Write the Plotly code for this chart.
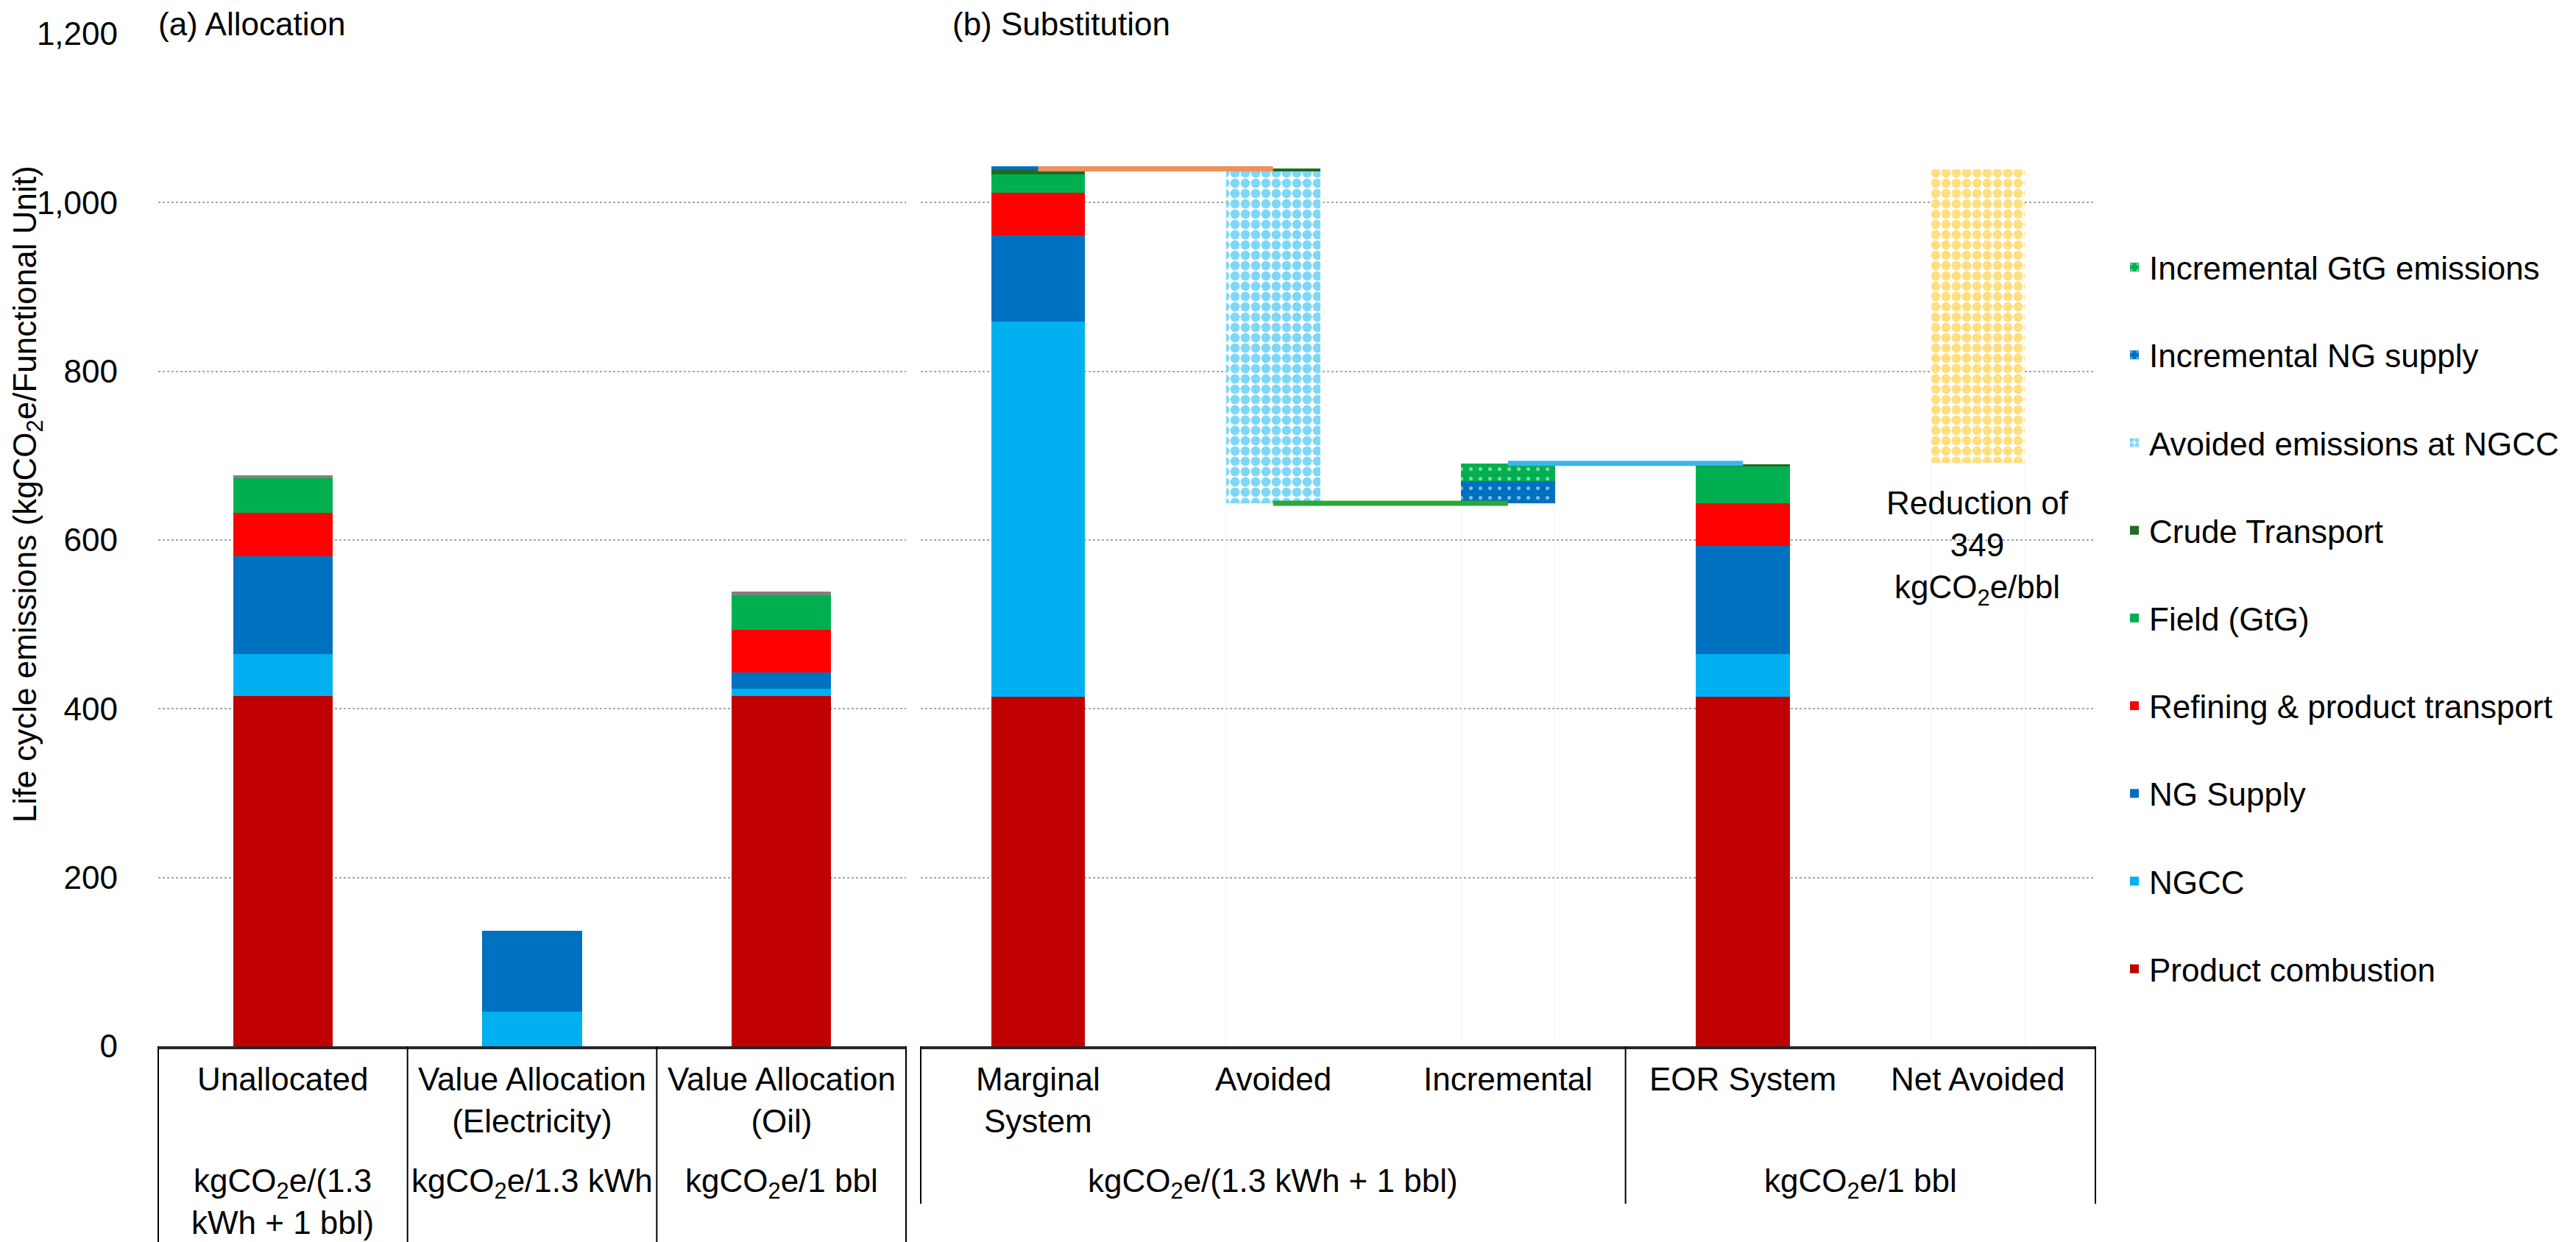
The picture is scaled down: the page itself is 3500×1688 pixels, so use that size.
import plotly.graph_objects as go

W, H = 3500, 1688
TOP, BOTTOM = 38, 1414  # pixel rows of the plot area (y = 1200 and y = 0)


def px(p):
    return p / W


def py(p):
    return (BOTTOM - p) / (BOTTOM - TOP)


# ---- categories / labels
alloc_cats = ["Unallocated", "Value Allocation<br>(Electricity)", "Value Allocation<br>(Oil)"]
alloc_units = ["kgCO<sub>2</sub>e/(1.3<br>kWh + 1 bbl)", "kgCO<sub>2</sub>e/1.3 kWh", "kgCO<sub>2</sub>e/1 bbl"]
subst_cats = ["Marginal<br>System", "Avoided", "Incremental", "EOR System", "Net Avoided"]
subst_units = ["kgCO<sub>2</sub>e/(1.3 kWh + 1 bbl)", "kgCO<sub>2</sub>e/1 bbl"]
subst_unit_span = [3, 2]

# ---- (a) allocation stacks
alloc_product = [415, 0, 415]
alloc_ngcc = [50, 41, 9]
alloc_ngsupply = [116, 96, 19]
alloc_refining = [51, 0, 51]
alloc_field = [41, 0, 41]
alloc_crude = [4, 0, 4]

# ---- (b) substitution stacks (waterfall)
subst_base = [0, 643.5, 643.5, 0, 691.5]
subst_product = [414, 0, 0, 414, 0]
subst_ngcc = [445, 0, 0, 51, 0]
subst_ngsupply = [102, 0, 0, 128, 0]
subst_refining = [51, 0, 0, 51, 0]
subst_field = [21, 0, 0, 43, 0]
subst_crude = [6, 0, 0, 3, 0]
subst_avoided = [0, 393.5, 0, 0, 0]
subst_avoided_top = [0, 3, 0, 0, 0]
subst_inc_ng = [4, 0, 26, 0, 0]
subst_inc_gtg = [0, 0, 21, 0, 0]
subst_net = [0, 0, 0, 0, 348]

# connector lines between waterfall steps
conn_marg_avoid = [1040, 1040]
conn_avoid_inc = [643.5, 643.5]
conn_inc_eor = [691, 691]

reduction = 349

FONT = "Arial, Liberation Sans, sans-serif"
FS = 44

fig = go.Figure()

series = [
    ("Product combustion", "#C00000", alloc_product, subst_product, None),
    ("NGCC", "#00B0F0", alloc_ngcc, subst_ngcc, None),
    ("NG Supply", "#0070C0", alloc_ngsupply, subst_ngsupply, None),
    ("Refining & product transport", "#FF0000", alloc_refining, subst_refining, None),
    ("Field (GtG)", "#00B050", alloc_field, subst_field, None),
    ("Crude Transport", "#1E6B24", alloc_crude, subst_crude, None),
    ("Avoided emissions at NGCC", "#00B0F0", None, subst_avoided,
     dict(shape=".", fgcolor="#00B0F0", bgcolor="white", size=14, solidity=0.66)),
    ("Incremental NG supply", "#0070C0", None, subst_inc_ng,
     dict(shape=".", fgcolor="white", bgcolor="#0070C0", size=13, solidity=0.12)),
    ("Incremental GtG emissions", "#00B050", None, subst_inc_gtg,
     dict(shape=".", fgcolor="white", bgcolor="#00B050", size=13, solidity=0.12)),
]

# invisible base for floating bars
fig.add_trace(go.Bar(x=subst_cats, y=subst_base, xaxis="x2", yaxis="y2",
                     marker=dict(color="rgba(0,0,0,0)"), showlegend=False,
                     hoverinfo="skip"))

for i, (name, color, left, right, pat) in enumerate(series):
    rank = len(series) - i  # top of the stack first in the legend
    if left is not None:
        lcol = color if name != "Crude Transport" else "#808080"
        fig.add_trace(go.Bar(x=alloc_cats, y=left, name=name, legendgroup=name,
                             legendrank=rank, showlegend=False,
                             marker=dict(color=lcol, line_width=0)))
    m = dict(color=color, line_width=0)
    if pat:
        m["pattern"] = pat
    fig.add_trace(go.Bar(x=subst_cats, y=right, name=name, legendgroup=name,
                         legendrank=rank, xaxis="x2", yaxis="y2", marker=m))
    if name == "Avoided emissions at NGCC":
        # thin dark cap on top of the avoided step
        fig.add_trace(go.Bar(x=subst_cats, y=subst_avoided_top, xaxis="x2", yaxis="y2",
                             showlegend=False, marker=dict(color="#1E6B24", line_width=0),
                             hoverinfo="skip"))

fig.add_trace(go.Bar(x=subst_cats, y=subst_net, xaxis="x2", yaxis="y2", showlegend=False,
                     name="Net Avoided",
                     marker=dict(color="#FFC000", line_width=0,
                                 pattern=dict(shape=".", fgcolor="#FFC000", bgcolor="white",
                                              size=14, solidity=0.66))))

# connectors
for xs, ys, col in [(subst_cats[0:2], conn_marg_avoid, "#F0905C"),
                    (subst_cats[1:3], conn_avoid_inc, "#2CA83A"),
                    (subst_cats[2:4], conn_inc_eor, "#38B6EC")]:
    fig.add_trace(go.Scatter(x=xs, y=ys, mode="lines", xaxis="x2", yaxis="y2",
                             line=dict(color=col, width=7), showlegend=False,
                             hoverinfo="skip"))

# ---- table-like category axis
shapes = []
n = len(alloc_cats)
for k in range(n + 1):
    shapes.append(dict(type="line", xref="x domain", yref="paper", x0=k / n, x1=k / n,
                       y0=0, y1=py(1680), line=dict(color="black", width=2)))
edges = [0]
for s in subst_unit_span:
    edges.append(edges[-1] + s)
for e in edges:
    f = e / len(subst_cats)
    shapes.append(dict(type="line", xref="x2 domain", yref="paper", x0=f, x1=f,
                       y0=0, y1=py(1628), line=dict(color="black", width=2)))

ann = []
for c, u in zip(alloc_cats, alloc_units):
    ann.append(dict(x=c, xref="x", y=py(1432), yref="paper", text=c, yanchor="top",
                    xanchor="center", showarrow=False))
    ann.append(dict(x=c, xref="x", y=py(1570), yref="paper", text=u, yanchor="top",
                    xanchor="center", showarrow=False))
for c in subst_cats:
    ann.append(dict(x=c, xref="x2", y=py(1432), yref="paper", text=c, yanchor="top",
                    xanchor="center", showarrow=False))
for i, u in enumerate(subst_units):
    f = (edges[i] + edges[i + 1]) / 2 / len(subst_cats)
    ann.append(dict(x=f, xref="x2 domain", y=py(1570), yref="paper", text=u,
                    yanchor="top", xanchor="center", showarrow=False))

ann.append(dict(x=px(205), y=py(25), xref="paper", yref="paper", text="(a) Allocation",
                xanchor="left", yanchor="middle", showarrow=False, bgcolor="white"))
ann.append(dict(x=px(1284), y=py(24), xref="paper", yref="paper", text="(b) Substitution",
                xanchor="left", yanchor="middle", showarrow=False, bgcolor="white"))
ann.append(dict(x=px(29), y=py(664), xref="paper", yref="paper",
                text="Life cycle emissions (kgCO<sub>2</sub>e/Functional Unit)",
                textangle=-90, xanchor="center", yanchor="middle", showarrow=False))
ann.append(dict(x=subst_cats[-1], xref="x2", y=591, yref="y2",
                text="Reduction of<br>%d<br>kgCO<sub>2</sub>e/bbl" % reduction,
                xanchor="center", showarrow=False))

axis_common = dict(showgrid=False, showline=True, linecolor="#262626", linewidth=4,
                   ticks="", showticklabels=False, type="category", fixedrange=True)
yaxis_common = dict(range=[0, 1200], dtick=200, showgrid=True, gridcolor="#A6A6A6",
                    gridwidth=2, griddash="dot", zeroline=False, showline=False,
                    tickformat=",")

fig.update_layout(
    width=W, height=H,
    margin=dict(l=0, r=0, t=TOP, b=H - BOTTOM),
    paper_bgcolor="white", plot_bgcolor="white",
    font=dict(family=FONT, size=FS, color="black"),
    barmode="stack", bargap=0.6,
    xaxis=dict(domain=[px(207), px(1223)], range=[-0.5, n - 0.5], **axis_common),
    xaxis2=dict(domain=[px(1243), px(2839)], range=[-0.5, len(subst_cats) - 0.5],
                anchor="y2", **axis_common),
    yaxis=dict(ticklabelstandoff=54, **yaxis_common),
    yaxis2=dict(anchor="x2", matches="y", showticklabels=False, **yaxis_common),
    legend=dict(x=px(2872), y=py(320), xanchor="left", yanchor="top",
                traceorder="grouped", tracegroupgap=59,
                font=dict(size=FS), bgcolor="rgba(0,0,0,0)"),
    shapes=shapes, annotations=ann,
)

fig.write_html("out.html")
